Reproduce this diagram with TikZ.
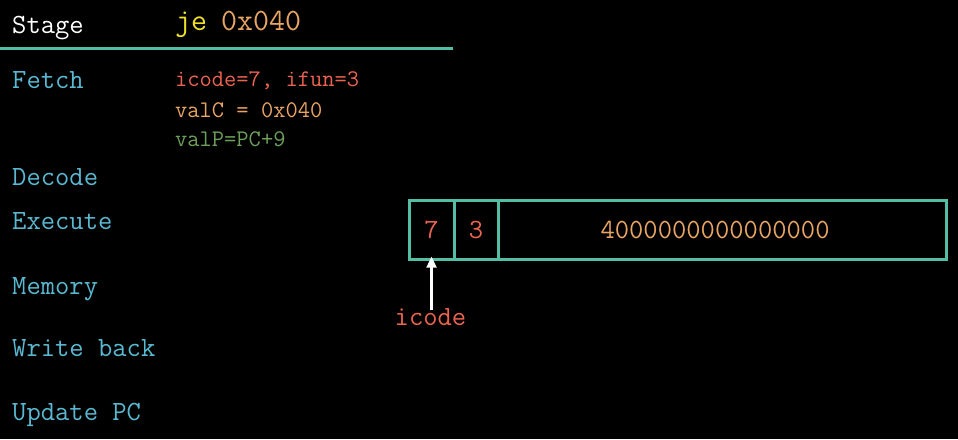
\documentclass[tikz,border=0pt]{standalone}
\usetikzlibrary{arrows.meta}
\definecolor{teal1}{RGB}{84,190,165}
\definecolor{stagec}{RGB}{90,185,210}
\definecolor{redc}{RGB}{236,100,80}
\definecolor{orangec}{RGB}{232,165,100}
\definecolor{greenc}{RGB}{110,160,90}
\definecolor{yellowc}{RGB}{240,225,40}
\begin{document}
\begin{tikzpicture}[x=1pt,y=-1pt,
  txt/.style={anchor=base west,inner sep=0pt,font=\ttfamily\fontsize{27.8}{32}\selectfont},
  small/.style={anchor=base west,inner sep=0pt,font=\ttfamily\fontsize{23.8}{28}\selectfont},
  big/.style={anchor=base west,inner sep=0pt,font=\ttfamily\fontsize{31}{36}\selectfont},
  cell/.style={draw=teal1,line width=3.1pt,minimum height=59pt,inner sep=0pt,anchor=north west,font=\ttfamily\fontsize{27.8}{32}\selectfont}]
\fill[black] (0,0) rectangle (958,439);
\useasboundingbox (0,0) rectangle (958,439);
% header
\node[txt,text=white] (stage) at (12,33) {Stage};
\node[big,text=yellowc] (je) at (175,30) {je};
\node[big,text=orangec] (addr) at (221,30) {0x040};
\coordinate (hl) at (0,48);
\coordinate (hr) at (453,48);
\draw[teal1,line width=3pt] (hl) -- (hr);
% stages
\node[txt,text=stagec] (fetch) at (12,88) {Fetch};
\node[txt,text=stagec] (decode) at (12,185) {Decode};
\node[txt,text=stagec] (execute) at (12,229.5) {Execute};
\node[txt,text=stagec] (memory) at (12,294.5) {Memory};
\node[txt,text=stagec] (writeback) at (12,356.5) {Write back};
\node[txt,text=stagec] (updatepc) at (12,420.5) {Update PC};
% fetch details
\node[small,text=redc] (f1) at (175,86.5) {icode=7, ifun=3};
\node[small,text=orangec] (f2) at (175,117) {valC = 0x040};
\node[small,text=greenc] (f3) at (175,146.5) {valP=PC+9};
% instruction bytes
\node[cell,minimum width=45pt,text=redc] (c1) at (407.5,198.5) {7};
\node[cell,minimum width=44pt,text=redc] (c2) at (452.5,198.5) {3};
\node[cell,minimum width=448pt,text=orangec,text width=448pt,align=center] (c3) at (496.5,198.5) {\hspace*{-14pt}4000000000000000};
% icode label
\node[txt,anchor=base,text=redc] (icl) at (430.5,325.5) {icode};
\draw[white,line width=2.2pt,-{Triangle[length=11pt,width=10pt]}] ([yshift=-2pt]c1.south |- icl.north) -- ([yshift=4pt]c1.south);
\end{tikzpicture}
\end{document}
